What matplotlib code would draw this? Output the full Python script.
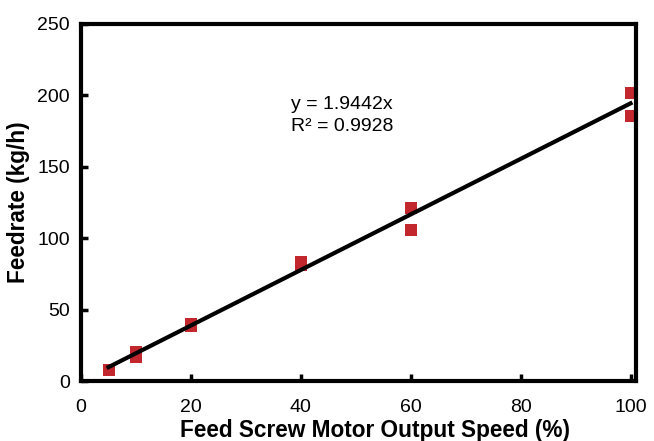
import numpy as np
import matplotlib
matplotlib.use("Agg")
import matplotlib.pyplot as plt

plt.rcParams['font.family'] = ['Liberation Sans', 'DejaVu Sans']

# Measured feedrate vs. motor output speed
speed = [5, 10, 10, 20, 20, 40, 40, 60, 60, 100, 100]
feedrate = [7.7, 20, 17, 40, 38.5, 83, 81, 121, 106, 202, 185.5]

slope = 1.9442
r_squared = 0.9928

x_ticks = [0, 20, 40, 60, 80, 100]
y_ticks = [0, 50, 100, 150, 200, 250]

fig = plt.figure(figsize=(6.54, 4.41), dpi=100)
ax = fig.add_axes([0.1239, 0.136, 0.8486, 0.8096])

ax.plot(speed, feedrate, linestyle='none', marker='s', markersize=8.5,
        color='#c1272d', markeredgewidth=0, zorder=2)

fit_x = np.array([min(speed), max(speed)])
ax.plot(fit_x, slope * fit_x, color='black', linewidth=3, zorder=3)

ax.text(38.3, 193.5, f"y = {slope}x", fontsize=14, ha='left', va='center')
ax.text(38.3, 178, f"R² = {r_squared}", fontsize=14, ha='left', va='center')

ax.set_xlim(0, 101)
ax.set_ylim(0, 250)
ax.set_xticks(x_ticks)
ax.set_yticks(y_ticks)
ax.tick_params(direction='in', length=5, width=2.5, labelsize=14)
ax.tick_params(axis='x', pad=13)
ax.tick_params(axis='y', pad=8)
for s in ax.spines.values():
    s.set_linewidth(3)

ax.set_xlabel("Feed Screw Motor Output Speed (%)", fontsize=16.3, fontweight='bold', labelpad=2)
ax.xaxis.label.set_x(0.53)
ax.set_ylabel("Feedrate (kg/h)", fontsize=16.3, fontweight='bold', labelpad=5)

fig.savefig("out.png", dpi=100)
